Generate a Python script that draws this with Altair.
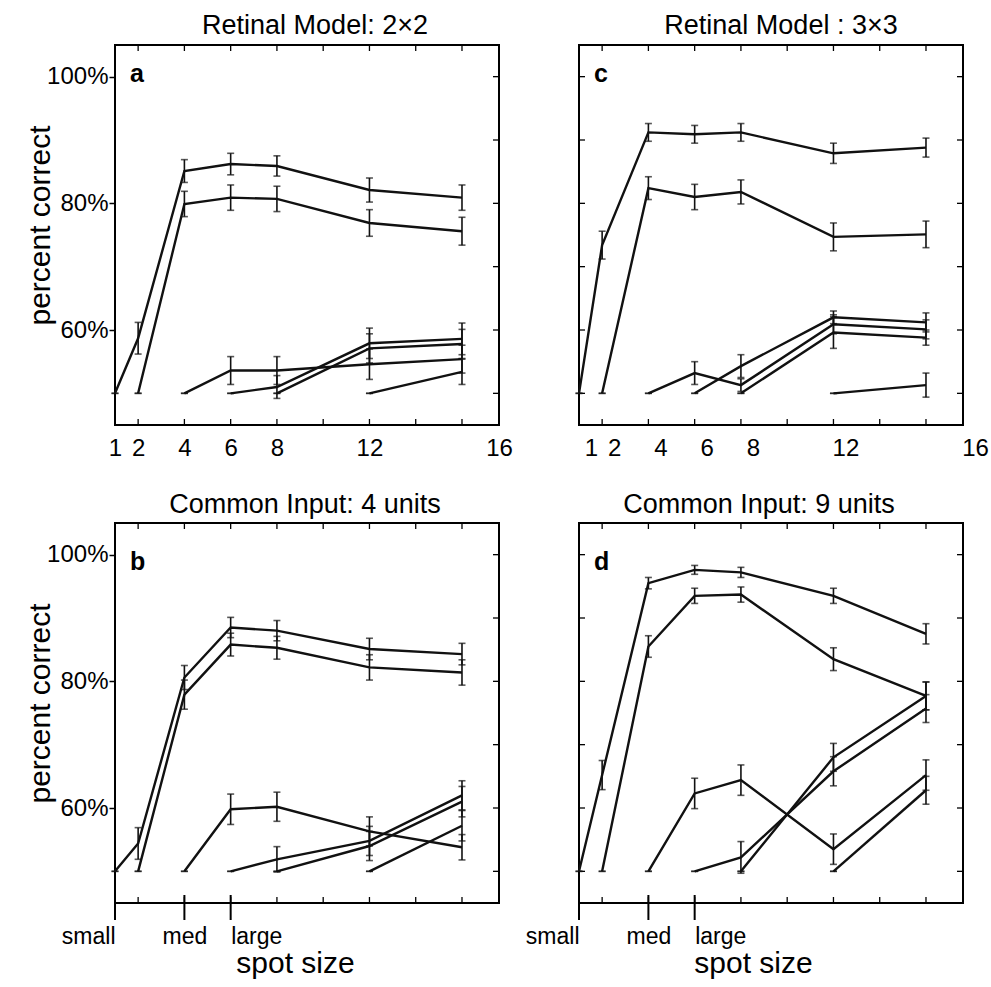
import altair as alt
import pandas as pd

# ---------------- data ----------------
x_vals = [1, 2, 4, 6, 8, 12, 16]
x_domain = [1, 17.6]
y_domain = [45, 105]

# panel a : Retinal Model 2x2
a_means = [
    [50, 58.7, 85.1, 86.2, 85.9, 82.1, 80.9],
    [None, 50, 79.9, 80.9, 80.7, 76.9, 75.6],
    [None, None, 50, 53.6, 53.6, 54.6, 55.4],
    [None, None, None, 50, 51.0, 57.9, 58.6],
    [None, None, None, None, 50, 57.1, 57.8],
    [None, None, None, None, None, 50, 53.4],
]
a_errs = [
    [0, 2.5, 1.8, 1.7, 1.6, 1.9, 2.0],
    [None, 0, 2.0, 2.0, 2.0, 2.1, 2.2],
    [None, None, 0, 2.2, 2.2, 2.4, 2.2],
    [None, None, None, 0, 1.8, 2.4, 2.5],
    [None, None, None, None, 0, 2.3, 2.3],
    [None, None, None, None, None, 0, 2.0],
]

# panel c : Retinal Model 3x3
c_means = [
    [50, 73.4, 91.2, 90.9, 91.2, 87.9, 88.8],
    [None, 50, 82.4, 81.0, 81.8, 74.7, 75.1],
    [None, None, 50, 53.2, 51.3, 60.9, 60.1],
    [None, None, None, 50, 54.3, 62.0, 61.2],
    [None, None, None, None, 50, 59.6, 58.8],
    [None, None, None, None, None, 50, 51.3],
]
c_errs = [
    [0, 2.2, 1.4, 1.4, 1.4, 1.6, 1.5],
    [None, 0, 1.8, 2.0, 1.9, 2.2, 2.1],
    [None, None, 0, 1.8, 1.0, 1.5, 1.5],
    [None, None, None, 0, 1.8, 1.0, 1.5],
    [None, None, None, None, 0, 2.5, 1.2],
    [None, None, None, None, None, 0, 1.9],
]

# panel b : Common Input 4 units
b_means = [
    [50, 54.4, 80.6, 88.5, 88.0, 85.1, 84.3],
    [None, 50, 77.9, 85.8, 85.3, 82.2, 81.4],
    [None, None, 50, 59.8, 60.2, 56.3, 53.8],
    [None, None, None, 50, 51.9, 54.8, 62.0],
    [None, None, None, None, 50, 54.0, 61.0],
    [None, None, None, None, None, 50, 57.2],
]
b_errs = [
    [0, 2.5, 1.9, 1.6, 1.6, 1.7, 1.7],
    [None, 0, 2.3, 1.8, 1.8, 2.0, 2.0],
    [None, None, 0, 2.4, 2.3, 2.3, 2.0],
    [None, None, None, 0, 2.0, 2.3, 2.3],
    [None, None, None, None, 0, 2.3, 2.4],
    [None, None, None, None, None, 0, 2.4],
]

# panel d : Common Input 9 units
d_means = [
    [50, 65.2, 95.5, 97.6, 97.2, 93.5, 87.5],
    [None, 50, 85.5, 93.5, 93.7, 83.5, 77.7],
    [None, None, 50, 62.3, 64.4, 53.5, 65.2],
    [None, None, None, 50, 52.2, 65.8, 75.7],
    [None, None, None, None, 50, 68.0, 77.7],
    [None, None, None, None, None, 50, 62.8],
]
d_errs = [
    [0, 2.3, 0.9, 0.7, 0.8, 1.2, 1.6],
    [None, 0, 1.7, 1.2, 1.2, 1.8, 2.2],
    [None, None, 0, 2.4, 2.4, 2.4, 2.4],
    [None, None, None, 0, 2.5, 2.3, 2.2],
    [None, None, None, None, 0, 2.2, 2.2],
    [None, None, None, None, None, 0, 2.2],
]

panel_titles = ["Retinal Model: 2\u00d72", "Retinal Model : 3\u00d73",
                "Common Input: 4 units", "Common Input: 9 units"]
panel_letters = ["a", "c", "b", "d"]

top_tick_values = [1, 2, 4, 6, 8, 12, 17.6]
top_tick_text = ["1", "2", "4", "6", "8", "12", "16"]
bottom_tick_values = [1, 4, 6]
bottom_tick_text = ["small", "med", "large"]
y_tick_values = [60, 80, 100]
minor_x = [2, 4, 6, 8, 10, 12, 14, 16]
minor_y = [50, 60, 70, 80, 90, 100]

FONT = "Liberation Sans"
W, H = 384, 380

xs = alt.Scale(domain=x_domain, nice=False, zero=False)
ys = alt.Scale(domain=y_domain, nice=False, zero=False)


def label_expr(values, texts):
    expr = "''"
    for v, t in reversed(list(zip(values, texts))):
        expr = f"(abs(datum.value - {v}) < 0.01 ? '{t}' : {expr})"
    return expr


def long_df(means, errs):
    rows = []
    for i, (ms, es) in enumerate(zip(means, errs)):
        for xv, m, e in zip(x_vals, ms, es):
            if m is None:
                continue
            rows.append({"s": i, "x": xv, "y": m, "lo": m - e, "hi": m + e, "e": e})
    return pd.DataFrame(rows)


def panel(means, errs, title, letter, top_row, left_col, title_dx, title_dy, letter_y,
          label_offset, spot_x):
    df = long_df(means, errs)
    caps = pd.concat([
        df[["x", "lo"]].rename(columns={"lo": "y"}),
        df[["x", "hi"]].rename(columns={"hi": "y"}),
    ])
    bars = df[df["e"] > 0]

    if top_row:
        xaxis = alt.Axis(values=top_tick_values, labelExpr=label_expr(top_tick_values, top_tick_text),
                         ticks=False, tickSize=0, domain=False, grid=False, labelFontSize=24,
                         labelPadding=11, labelFlush=False, labelOffset=label_offset,
                         labelOverlap=False, title=None)
    else:
        xaxis = alt.Axis(values=bottom_tick_values,
                         labelExpr=label_expr(bottom_tick_values, bottom_tick_text),
                         labelAlign={"condition": [
                             {"test": f"datum.value == {bottom_tick_values[0]}", "value": "right"},
                             {"test": f"datum.value == {bottom_tick_values[-1]}", "value": "left"}],
                             "value": "center"},
                         ticks=False, tickSize=0, domain=False, grid=False, labelFontSize=23,
                         labelPadding=22, labelFlush=False, labelOverlap=False,
                         title="spot size", titleFontSize=30, titleFontWeight="normal",
                         titleX=spot_x, titleY=69, titleBaseline="alphabetic", titleAlign="center",
                         titleAnchor="start")
    if left_col:
        yaxis = alt.Axis(values=y_tick_values, labelExpr="datum.value + '%'", ticks=True,
                         tickSize=6, tickWidth=1.5, tickColor="black", domain=False, grid=False,
                         labelFontSize=24, labelPadding=1, title="percent correct",
                         titleFontSize=30, titleFontWeight="normal", titleX=-66, titleY=180,
                         titleAngle=270, titleBaseline="alphabetic", titleAlign="center",
                         titleAnchor="start")
    else:
        yaxis = None

    X = lambda f="x": alt.X(f"{f}:Q", scale=xs, axis=xaxis)
    Y = lambda f="y": alt.Y(f"{f}:Q", scale=ys, axis=yaxis)

    lines = alt.Chart(df).mark_line(color="#111", strokeWidth=2.4).encode(
        x=X(), y=Y(), detail="s:N")
    err = alt.Chart(bars).mark_rule(color="#111", strokeWidth=1.6).encode(
        x=X(), y=Y("lo"), y2="hi:Q")
    cap = alt.Chart(caps).mark_tick(color="#111", orient="horizontal", size=7, thickness=1.6).encode(
        x=X(), y=Y())

    mx = pd.DataFrame({"x": minor_x})
    my = pd.DataFrame({"y": minor_y})
    t_top = alt.Chart(mx).mark_rule(color="black", strokeWidth=1.3).encode(
        x=X(), y=alt.value(0), y2=alt.value(6))
    t_bot = alt.Chart(mx).mark_rule(color="black", strokeWidth=1.3).encode(
        x=X(), y=alt.value(H - 6), y2=alt.value(H))
    t_right = alt.Chart(my).mark_rule(color="black", strokeWidth=1.3).encode(
        y=Y(), x=alt.value(W - 6), x2=alt.value(W))
    layers = [t_top, t_bot, t_right]
    if not left_col:
        layers.append(alt.Chart(my).mark_rule(color="black", strokeWidth=1.3).encode(
            y=Y(), x=alt.value(0), x2=alt.value(6)))
    if not top_row:
        lx = pd.DataFrame({"x": bottom_tick_values})
        layers.append(alt.Chart(lx).mark_rule(color="black", strokeWidth=2).encode(
            x=X(), y=alt.value(H - 8), y2=alt.value(H + 17)))

    let = alt.Chart(pd.DataFrame({"t": [letter]})).mark_text(
        font=FONT, fontSize=25, fontWeight="bold", align="left", baseline="alphabetic",
        color="black").encode(x=alt.value(15), y=alt.value(letter_y), text="t:N")

    return alt.layer(*layers, lines, err, cap, let).properties(
        width=W, height=H,
        title=alt.TitleParams(title, fontSize=27, fontWeight="normal", font=FONT, color="black",
                              anchor="middle", dx=title_dx, dy=title_dy, baseline="alphabetic",
                              offset=8))


pa = panel(a_means, a_errs, panel_titles[0], panel_letters[0], True, True, 8, 25, 37, 0, 180)
pc = panel(c_means, c_errs, panel_titles[1], panel_letters[1], True, False, 10, 25, 37, 12, 174)
pb = panel(b_means, b_errs, panel_titles[2], panel_letters[2], False, True, -2, 26, 47, 0, 180)
pd_ = panel(d_means, d_errs, panel_titles[3], panel_letters[3], False, False, -12, 26, 47, 0, 174)

chart = alt.concat(pa, pc, pb, pd_, columns=2, spacing={"row": 98, "column": 80},
                   bounds="flush").properties(
    padding={"left": 24, "top": 11, "right": 0, "bottom": 0}
).configure_view(stroke="black", strokeWidth=2).configure_axis(
    labelFont=FONT, titleFont=FONT, labelColor="black", titleColor="black"
).configure_title(font=FONT, color="black")

chart.save("out.html", embed_options={"renderer": "svg", "actions": False})
